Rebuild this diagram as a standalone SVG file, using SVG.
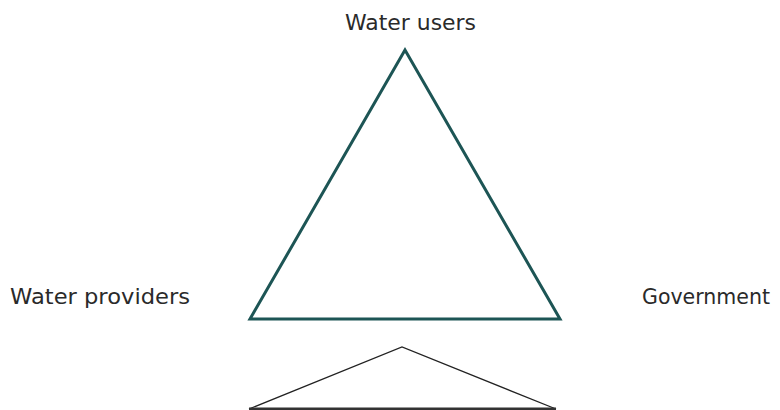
<svg xmlns="http://www.w3.org/2000/svg" width="780" height="410" viewBox="0 0 780 410">
<style>
.lbl{font-family:"DejaVu Sans","Liberation Sans",sans-serif;font-size:22px;fill:#2a2a2a;}
.main{fill:none;stroke:#1d5555;stroke-width:3;stroke-linejoin:miter;}
.small{fill:none;stroke:#222;stroke-width:1.3;}
</style>
<rect width="780" height="410" fill="#ffffff"/>
<g id="connectors">
<polygon class="main" points="405,50 250,319 560,319"/>
<polyline class="small" points="249,409 402,347 556,409"/>
<line x1="249" y1="409" x2="556" y2="409" stroke="#333" stroke-width="3"/>
</g>
<g id="water-users"><text class="lbl" x="345" y="30" textLength="131" lengthAdjust="spacingAndGlyphs">Water users</text></g>
<g id="water-providers"><text class="lbl" x="10" y="304" textLength="180" lengthAdjust="spacingAndGlyphs">Water providers</text></g>
<g id="government"><text class="lbl" x="642" y="304" textLength="128" lengthAdjust="spacingAndGlyphs">Government</text></g>
</svg>
